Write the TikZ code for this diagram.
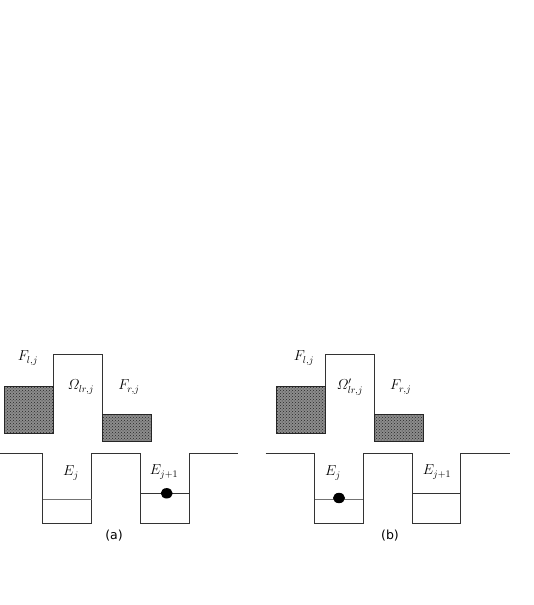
\documentclass[tikz,border=0pt]{standalone}
\usepackage{amsmath}
\usepackage{fontspec}
\newfontfamily\labfont{DejaVu Sans}
\usetikzlibrary{patterns}
\begin{document}
\begin{tikzpicture}[x=1pt,y=-1pt,
  band/.style={draw=black!80,line width=0.8pt},
  reservoir/.style={draw=black!85,line width=0.8pt,pattern=crosshatch dots,pattern color=black!85},
  lab/.style={inner sep=0pt,font=\fontsize{14}{16}\selectfont},
  captext/.style={inner sep=0pt,font=\labfont\fontsize{12.5}{14}\selectfont},
  electron/.style={fill=black,draw=none}]
\useasboundingbox (0,0) rectangle (534,605);
\fill[white] (0,0) rectangle (534,605);
% ---------- panel (a)
\fill[black!45] (4.3,386) rectangle (53.7,433);
\path[reservoir] (4.3,386) rectangle (53.7,433);
\fill[black!45] (102.3,414) rectangle (151.7,441);
\path[reservoir] (102.3,414) rectangle (151.7,441);
\draw[band] (53.7,386) -- (53.7,354) -- (102.3,354) -- (102.3,414);
\draw[band] (0,453.7) -- (42.7,453.7) -- (42.7,523) -- (91.7,523) -- (91.7,453.7)
  -- (140.3,453.7) -- (140.3,523) -- (189.3,523) -- (189.3,453.7) -- (238.3,453.7);
\draw[band,draw=black!55] (42.7,499) -- (91.7,499);
\draw[band] (140.3,493.3) -- (189.3,493.3);
\fill[electron] (166.7,493.3) ellipse [x radius=6, y radius=5.2];
\node[lab] (Fla) at (28,358) {$F_{l,j}$};
\node[lab] (Oma) at (81,387) {$\varOmega_{lr,j}$};
\node[lab] (Fra) at (129,387) {$F_{r,j}$};
\node[lab] (Eja) at (71,473) {$E_j$};
\node[lab] (Eka) at (164,472) {$E_{j+1}$};
\node[captext] (capa) at (114,536) {(a)};
% ---------- panel (b)
\fill[black!45] (276.3,386) rectangle (325.3,433);
\path[reservoir] (276.3,386) rectangle (325.3,433);
\fill[black!45] (374.7,414) rectangle (423.3,441);
\path[reservoir] (374.7,414) rectangle (423.3,441);
\draw[band] (325.3,386) -- (325.3,354) -- (374.7,354) -- (374.7,414);
\draw[band] (265.7,453.7) -- (314.7,453.7) -- (314.7,523) -- (363.3,523) -- (363.3,453.7)
  -- (412.7,453.7) -- (412.7,523) -- (460.7,523) -- (460.7,453.7) -- (510,453.7);
\draw[band,draw=black!55] (314.7,499) -- (363.3,499);
\draw[band] (412.7,493.3) -- (460.7,493.3);
\fill[electron] (339,498) ellipse [x radius=6, y radius=5.2];
\node[lab] (Flb) at (304,358) {$F_{l,j}$};
\node[lab] (Omb) at (350,387) {$\varOmega'_{lr,j}$};
\node[lab] (Frb) at (400.7,387) {$F_{r,j}$};
\node[lab] (Ejb) at (333,473) {$E_j$};
\node[lab] (Ekb) at (437,472) {$E_{j+1}$};
\node[captext] (capb) at (390,536) {(b)};
\end{tikzpicture}
\end{document}
